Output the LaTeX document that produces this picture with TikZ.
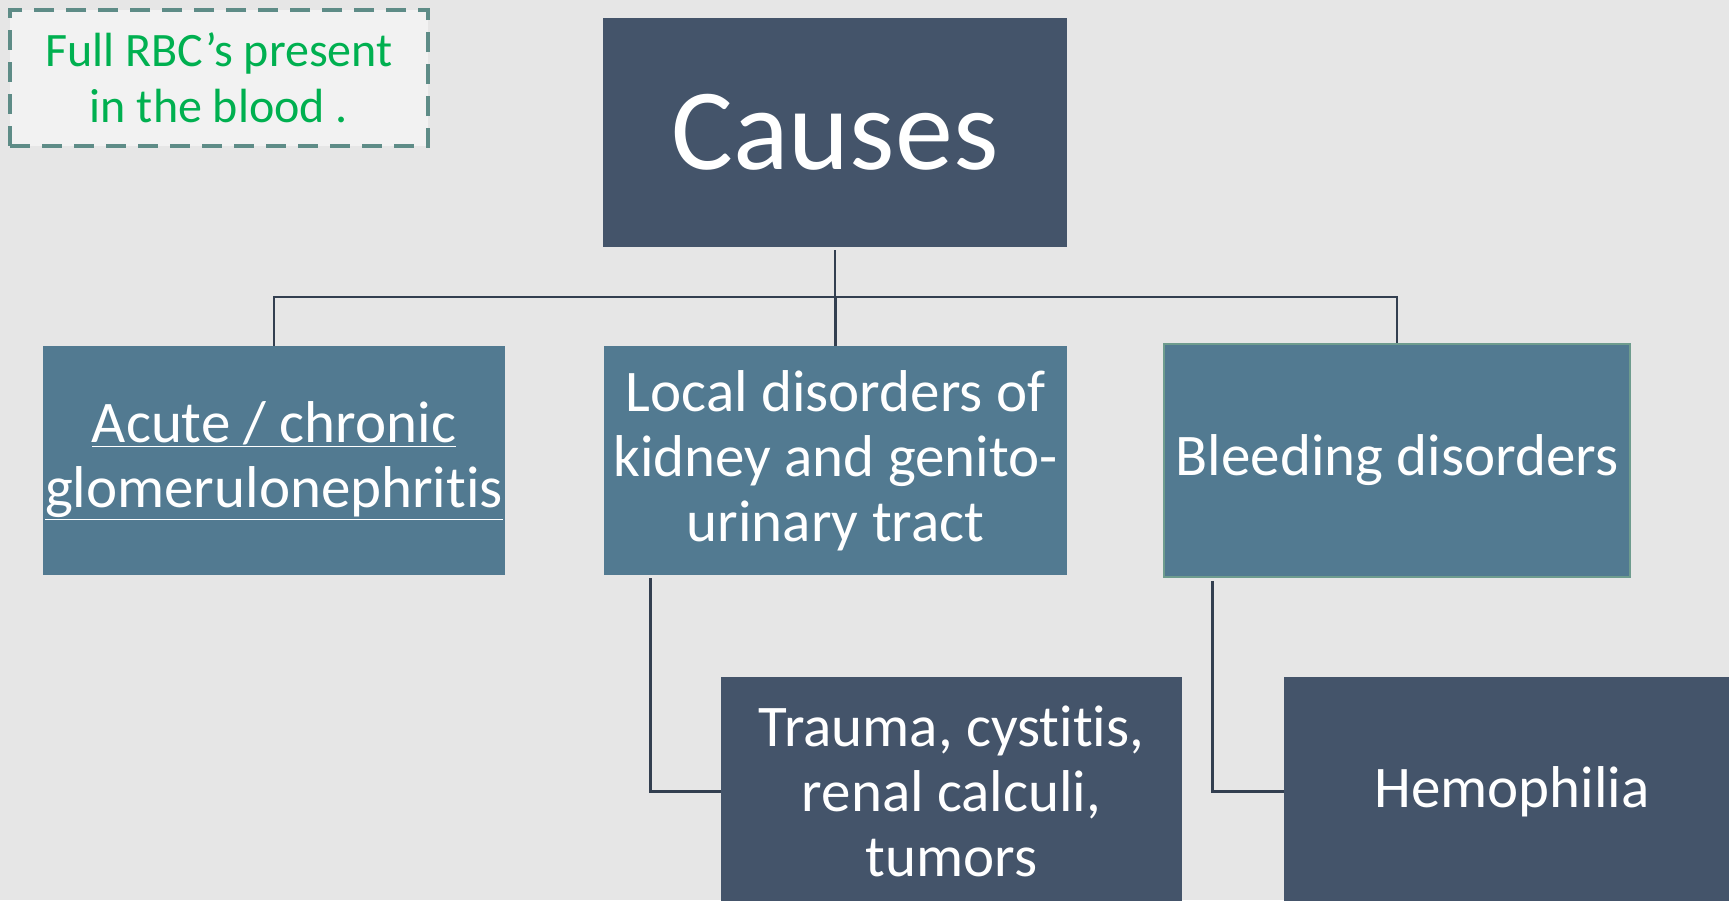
\documentclass[tikz,border=0pt]{standalone}
\usepackage{fontspec}
\setmainfont[Ligatures={NoCommon}]{Carlito}
\newcommand{\nlti}{t\kern0pt i}
\definecolor{bg}{HTML}{E6E6E6}
\definecolor{navy}{HTML}{44546A}
\definecolor{steel}{HTML}{527A91}
\definecolor{conncol}{HTML}{333F50}
\definecolor{notegreen}{HTML}{00B050}
\definecolor{notebd}{HTML}{5E8C87}
\definecolor{notefill}{HTML}{F2F2F2}
\definecolor{bleedbd}{HTML}{6E9C8E}
\tikzset{
  darkbox/.style={fill=navy, text=white, align=center, inner sep=0pt,
    font=\fontsize{59}{65}\selectfont},
  lightbox/.style={fill=steel, text=white, align=center, inner sep=0pt,
    font=\fontsize{59}{65}\selectfont},
  conn/.style={draw=conncol, line width=2.5pt},
  notebox/.style={fill=notefill, draw=notebd, line width=4.5pt,
    dash pattern=on 20pt off 12pt, text=notegreen, align=center, inner sep=0pt,
    font=\fontsize{48}{56}\selectfont}
}
\begin{document}
\begin{tikzpicture}[x=1pt,y=-1pt]
\fill[bg] (0,0) rectangle (1729,900);
\useasboundingbox (0,0) rectangle (1729,900);
\clip (0,0) rectangle (1729,900);

% note box
\node[notebox, minimum width=418pt, minimum height=136pt] (note) at (219,78)
  {Full RBC’s present\\in the blood .};

% top
\node[darkbox, minimum width=464pt, minimum height=229pt,
  font=\fontsize{116}{120}\selectfont] (causes) at (835,132.5) {Causes};

% second row
\node[lightbox, minimum width=462pt, minimum height=229pt] (acute) at (274,460.5)
  {\underline{Acute / chronic}\\\underline{glomerulonephri\nlti s}};
\node[lightbox, minimum width=463pt, minimum height=229pt] (local) at (835.5,460.5)
  {Local disorders of\\kidney and genito-\\urinary tract};
\node[lightbox, draw=bleedbd, line width=1.5pt, minimum width=466pt, minimum height=233pt] (bleed) at (1397,460.5)
  {Bleeding disorders};

% third row
\node[darkbox, minimum width=461pt, minimum height=229pt] (trauma) at (951.5,791.5)
  {Trauma, cys\nlti\nlti s,\\renal calculi,\\tumors};
\node[darkbox, minimum width=456pt, minimum height=229pt] (hemo) at (1512,791.5)
  {Hemophilia};

% connectors
\coordinate (bus) at (835.5,297);
\draw[conn] ([yshift=-3pt]causes.south) -- (causes.south |- bus);
\draw[conn] (acute.north) -- (acute.north |- bus) -- (bus -| bleed.north) -- (bleed.north);
\draw[conn] (bus) -- (local.north);
\draw[conn] ([xshift=46.5pt,yshift=-3pt]local.south west) |- (trauma.west);
\draw[conn] ([xshift=49pt,yshift=-3pt]bleed.south west) |- (hemo.west);
\end{tikzpicture}
\end{document}
